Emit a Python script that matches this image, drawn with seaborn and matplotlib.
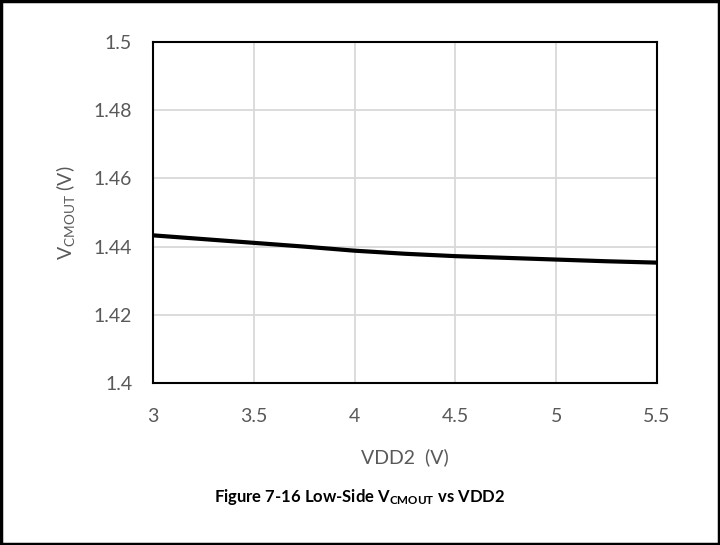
import matplotlib
matplotlib.use("Agg")
import matplotlib.pyplot as plt
from matplotlib.patches import Rectangle
import seaborn as sns
import pandas as pd

# Common-mode output voltage versus supply voltage
vdd2 = [3.0, 3.25, 3.5, 3.75, 4.0, 4.25, 4.5, 4.75, 5.0, 5.25, 5.5]
vcmout = [1.4433, 1.4422, 1.4411, 1.4400, 1.4388, 1.4379, 1.4372,
          1.4367, 1.4362, 1.4357, 1.4353]
x_ticks = [3, 3.5, 4, 4.5, 5, 5.5]
y_ticks = [1.4, 1.42, 1.44, 1.46, 1.48, 1.5]

sns.set_theme(style="white")
family = ["Lato", "DejaVu Sans"]
plt.rcParams["font.family"] = family
plt.rcParams["mathtext.fontset"] = "custom"
plt.rcParams["mathtext.rm"] = "Lato"
plt.rcParams["mathtext.it"] = "Lato:italic"
plt.rcParams["mathtext.bf"] = "Lato:bold"

df = pd.DataFrame({"VDD2": vdd2, "VCMOUT": vcmout})

fig = plt.figure(figsize=(7.2, 5.45), dpi=100)
ax = fig.add_axes([153 / 720, 1 - 383 / 545, (657 - 153) / 720, (383 - 42) / 545])

sns.lineplot(data=df, x="VDD2", y="VCMOUT", ax=ax, color="black", linewidth=3.0)

ax.set_xlim(3, 5.5)
ax.set_ylim(1.4, 1.5)
ax.set_xticks(x_ticks)
ax.set_xticklabels([f"{v:g}" for v in x_ticks])
ax.set_yticks(y_ticks)
ax.set_yticklabels([f"{v:g}" for v in y_ticks])
ax.tick_params(axis="both", length=0, labelsize=14, colors="#595959")
ax.tick_params(axis="y", pad=15)
ax.tick_params(axis="x", pad=18)
ax.grid(True, color="#d9d9d9", linewidth=1.3)
for s in ax.spines.values():
    s.set_color("black")
    s.set_linewidth(1.5)

ax.set_xlabel("VDD2  (V)", fontsize=14, color="#595959", labelpad=17)
ax.set_ylabel(r"V$_{\mathrm{CMOUT}}$ (V)", fontsize=14, color="#595959", labelpad=12)

fig.text(0.5, 1 - 497 / 545, r"Figure 7-16 Low-Side V$_{\mathbf{CMOUT}}$ vs VDD2",
         ha="center", va="center", fontsize=12, fontweight="bold", color="black")

fig.patches.append(Rectangle((0.0015, 0.002), 0.997, 0.996, transform=fig.transFigure,
                             fill=False, edgecolor="black", linewidth=2.5))

fig.savefig("out.png", dpi=100)
